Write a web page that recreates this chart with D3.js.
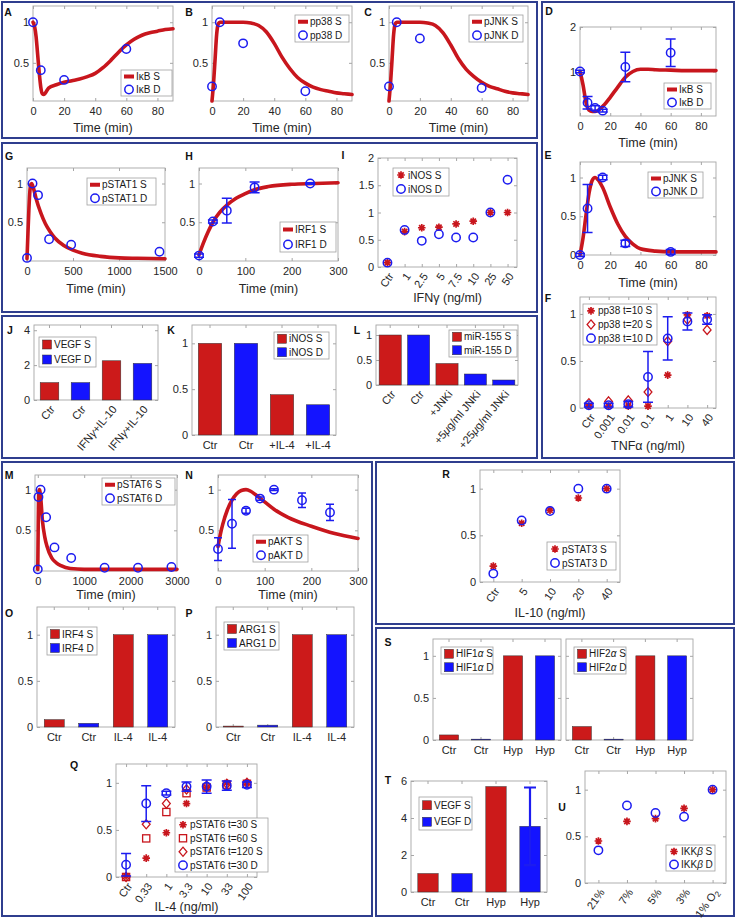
<!DOCTYPE html>
<html><head><meta charset="utf-8">
<script src="https://cdn.jsdelivr.net/npm/d3@7/dist/d3.min.js"></script>
<style>html,body{margin:0;padding:0;background:#fff}svg{display:block}</style>
</head><body>
<script>
// ================= DATA =================
// A: IκB (TNF stimulation)
const A_tSim=[0,1,2,3,4,5,6,7,8,10,15,20,25,30,35,40,45,50,55,60,65,70,75,80,85,90];
const A_sim=[1,0.95,0.82,0.6,0.38,0.2,0.12,0.11,0.13,0.19,0.23,0.26,0.28,0.3,0.33,0.37,0.44,0.53,0.63,0.72,0.79,0.84,0.87,0.89,0.91,0.92];
const A_tDat=[0,5,20,60];
const A_dat=[1.0,0.41,0.29,0.67];
// B: pp38, C: pJNK
const BC_tSim=[0,1,2,3,4,5,10,15,20,25,30,35,40,45,50,55,60,65,70,75,80,85,90];
const B_sim=[0.03,0.25,0.55,0.85,0.98,1.0,1.0,1.0,1.0,0.99,0.96,0.88,0.74,0.57,0.43,0.32,0.25,0.2,0.17,0.15,0.13,0.12,0.11];
const C_sim=[0.03,0.25,0.55,0.85,0.98,1.0,1.0,1.0,1.0,0.99,0.96,0.87,0.72,0.55,0.42,0.33,0.26,0.21,0.18,0.15,0.13,0.12,0.11];
const BC_tDat=[0,5,20,60];
const B_dat=[0.21,1.0,0.74,0.15];
const C_dat=[0.21,1.0,0.8,0.19];
// D: IκB (LPS)
const D_tSim=[0,2,4,6,8,10,13,16,20,25,30,35,40,45,50,60,70,80,90];
const D_sim=[1,0.7,0.3,0.13,0.1,0.1,0.15,0.25,0.42,0.65,0.87,1.0,1.05,1.05,1.04,1.03,1.02,1.02,1.02];
const D_tDat=[0,5,10,15,30,60];
const D_dat=[1.0,0.3,0.18,0.12,1.1,1.42];
const D_err=[0.03,0.14,0.05,0.03,0.33,0.31];
// E: pJNK
const E_tSim=[0,2,4,6,8,10,12,15,20,25,30,35,40,50,60,70,80,90];
const E_sim=[0,0.22,0.52,0.8,0.96,1.0,0.97,0.87,0.62,0.4,0.24,0.14,0.08,0.05,0.04,0.04,0.04,0.04];
const E_tDat=[0,5,15,30,60];
const E_dat=[0,0.6,1.0,0.15,0.04];
const E_err=[0.02,0.31,0.03,0.04,0.03];
// F: pp38 vs TNFα dose
const F_cats=["Ctr","0.001","0.01","0.1","1","10","40"];
const F_S10=[0.02,0.02,0.02,0.02,0.35,0.99,0.98];
const F_S20=[0.05,0.07,0.08,0.17,0.71,0.94,0.83];
const F_D10=[0.03,0.03,0.04,0.33,0.74,0.92,0.94];
const F_D10err=[0.02,0.02,0.03,0.27,0.23,0.09,0.05];
// G: pSTAT1
const G_tSim=[0,10,20,30,40,50,70,100,150,200,250,300,400,500,600,800,1000,1200,1500];
const G_sim=[0.03,0.35,0.65,0.88,0.98,1.0,0.94,0.8,0.62,0.48,0.38,0.3,0.2,0.14,0.1,0.06,0.04,0.035,0.03];
const G_tDat=[0,60,120,240,480,1440];
const G_dat=[0.04,1.0,0.85,0.28,0.21,0.12];
// H: IRF1
const H_tSim=[0,10,20,30,45,60,80,100,120,150,200,250,300];
const H_sim=[0.08,0.24,0.38,0.5,0.63,0.72,0.81,0.87,0.92,0.96,0.99,1.0,1.01];
const H_tDat=[0,30,60,120,240];
const H_dat=[0.07,0.51,0.65,0.95,1.0];
const H_err=[0.02,0.02,0.16,0.07,0.01];
// I: iNOS vs IFNγ
const I_cats=["Ctr","1","2.5","5","7.5","10","25","50"];
const I_S=[0.08,0.65,0.72,0.73,0.79,0.84,1.0,1.0];
const I_D=[0.08,0.68,0.48,0.6,0.54,0.54,1.0,1.6];
// J: VEGF
const J_labels=["Ctr","Ctr","IFN{γ}+IL-10","IFN{γ}+IL-10"];
const J_vals=[1.0,1.0,2.25,2.1];
const J_series=["S","D","S","D"];
// K: iNOS
const K_labels=["Ctr","Ctr","+IL-4","+IL-4"];
const K_vals=[1.0,1.0,0.44,0.33];
const K_series=["S","D","S","D"];
// L: miR-155
const L_labels=["Ctr","Ctr","+JNKi","+5{μ}g/ml JNKi","+25{μ}g/ml JNKi"];
const L_vals=[1.0,1.0,0.43,0.22,0.1];
const L_series=["S","D","S","D","D"];
// M: pSTAT6
const M_tSim=[0,10,20,35,60,100,150,200,300,400,500,700,1000,1500,2000,3000];
const M_sim=[0.02,0.6,0.95,1.0,0.92,0.62,0.42,0.3,0.16,0.1,0.065,0.03,0.02,0.02,0.02,0.02];
const M_tDat=[0,15,60,180,360,720,1440,2160,2880];
const M_dat=[0.02,0.91,1.0,0.66,0.29,0.16,0.04,0.04,0.05];
// N: pAKT
const N_tSim=[0,5,10,20,30,40,50,60,70,80,100,120,150,200,250,300];
const N_sim=[0.3,0.45,0.57,0.75,0.87,0.95,0.99,1.0,0.98,0.94,0.85,0.76,0.66,0.55,0.46,0.4];
const N_tDat=[0,30,60,90,120,180,240];
const N_dat=[0.27,0.58,0.74,0.89,1.0,0.87,0.72];
const N_err=[0.14,0.3,0.03,0.02,0.01,0.09,0.1];
// O: IRF4, P: ARG1
const OP_labels=["Ctr","Ctr","IL-4","IL-4"];
const OP_series=["S","D","S","D"];
const O_vals=[0.08,0.04,1.0,1.0];
const P_vals=[0.01,0.02,1.0,1.0];
// Q: pSTAT6 vs IL-4 dose
const Q_cats=["Ctr","0.33","1","3.3","10","33","100"];
const Q_S30=[0.01,0.2,0.47,0.78,0.95,1.0,1.0];
const Q_S60=[0.0,0.41,0.69,0.89,0.95,0.98,0.99];
const Q_S120=[0.0,0.56,0.78,0.93,0.97,0.99,1.0];
const Q_D30=[0.13,0.78,0.89,0.96,0.96,0.97,0.98];
const Q_D30err=[0.12,0.19,0.02,0.05,0.07,0.05,0.03];
// R: pSTAT3 vs IL-10 dose
const R_cats=["Ctr","5","10","20","40"];
const R_S=[0.17,0.63,0.77,0.9,1.0];
const R_D=[0.09,0.66,0.76,1.0,1.0];
// S: HIF1α, HIF2α
const S_labels=["Ctr","Ctr","Hyp","Hyp"];
const S_series=["S","D","S","D"];
const S1_vals=[0.06,0.01,1.0,1.0];
const S2_vals=[0.16,0.01,1.0,1.0];
// T: VEGF hypoxia
const T_labels=["Ctr","Ctr","Hyp","Hyp"];
const T_series=["S","D","S","D"];
const T_vals=[1.0,1.0,5.7,3.55];
const T_err=[0,0,0,2.1];
// U: IKKβ vs O2
const U_cats=["21%","7%","5%","3%","1% O_2"];
const U_S=[0.45,0.66,0.69,0.8,1.0];
const U_D=[0.35,0.83,0.75,0.71,1.0];

// ================= STYLE =================
const FONT="'Liberation Sans', Arial, Helvetica, sans-serif";
const RED="#c8161d", BARRED="#cc1a1a", BLUE="#1c1cf0", BARBLUE="#1414ff", FR="#a6a6a6", TXT="#262626", BOX="#2f3e8e";
const svg=d3.select("body").append("svg").attr("width",738).attr("height",922).style("font-family",FONT);

function rich(t,s){
  t.text(null);
  const re=/\{([^}]*)\}|_(\w)|([^{_]+)/g; let m;
  while((m=re.exec(s))){
    if(m[1]!==undefined) t.append("tspan").attr("font-style","italic").text(m[1]);
    else if(m[2]!==undefined) t.append("tspan").attr("dy","0.3em").attr("font-size","75%").text(m[2]);
    else t.append("tspan").text(m[3]);
  }
}
function box(x0,y0,x1,y1){
  svg.append("rect").attr("x",x0).attr("y",y0).attr("width",x1-x0).attr("height",y1-y0)
    .attr("fill","none").attr("stroke",BOX).attr("stroke-width",2);
}
function letter(t,x,y){
  svg.append("text").attr("x",x).attr("y",y).attr("dy","0.35em").attr("text-anchor","middle")
    .attr("font-weight","bold").attr("font-size",10.5).attr("fill","#111").text(t);
}
function axes(o){
  const g=svg.append("g");
  g.append("rect").attr("x",o.x0).attr("y",o.y0).attr("width",o.x1-o.x0).attr("height",o.y1-o.y0)
    .attr("fill","#fff").attr("stroke",FR).attr("stroke-width",0.9);
  const fmt=o.xFmt||(d=>d);
  const xa=d3.axisBottom(o.x).tickSize(-3).tickPadding(6).tickFormat(fmt);
  if(o.xTicks) xa.tickValues(o.xTicks);
  const gx=g.append("g").attr("transform",`translate(0,${o.y1})`).call(xa);
  const xt=d3.axisTop(o.x).tickSize(-3).tickFormat("");
  if(o.xTicks) xt.tickValues(o.xTicks);
  g.append("g").attr("transform",`translate(0,${o.y0})`).call(xt);
  const ya=d3.axisLeft(o.y).tickValues(o.yTicks).tickSize(-3).tickPadding(4).tickFormat(o.noYLabels?"":(d=>d));
  g.append("g").attr("transform",`translate(${o.x0},0)`).call(ya);
  g.append("g").attr("transform",`translate(${o.x1},0)`).call(d3.axisRight(o.y).tickValues(o.yTicks).tickSize(-3).tickFormat(""));
  g.selectAll(".domain").remove();
  g.selectAll(".tick line").attr("stroke",FR);
  g.selectAll(".tick text").attr("fill",TXT).attr("font-size",11).attr("font-family",FONT);
  gx.selectAll(".tick text").each(function(d){ rich(d3.select(this), String(fmt(d))); });
  if(o.rot){
    gx.selectAll(".tick text").attr("y",0).attr("x",0).attr("dy","0.35em").attr("text-anchor","end")
      .attr("transform",`translate(3,7) rotate(${o.rot})`);
  }
  if(o.title){
    g.append("text").attr("x",(o.x0+o.x1)/2).attr("y",o.titleY).attr("dy","0.35em").attr("text-anchor","middle")
      .attr("font-size",12.5).attr("fill",TXT).text(o.title);
  }
  o.g=g;
  return o;
}
function curve(o,ts,vs){
  o.g.append("path").datum(ts.map((t,i)=>[t,vs[i]]))
    .attr("d",d3.line().x(d=>o.x(d[0])).y(d=>o.y(d[1])).curve(d3.curveMonotoneX))
    .attr("fill","none").attr("stroke",RED).attr("stroke-width",3.6).attr("stroke-linejoin","round").attr("stroke-linecap","round");
}
function marker(g,type,cx,cy){
  if(type==="circle") g.append("circle").attr("cx",cx).attr("cy",cy).attr("r",4.2).attr("fill","none").attr("stroke",BLUE).attr("stroke-width",1.5);
  else if(type==="star"){const s=3.8,d=s*0.7071;
    g.append("path").attr("d",`M${cx-s},${cy}H${cx+s}M${cx},${cy-s}V${cy+s}M${cx-d},${cy-d}L${cx+d},${cy+d}M${cx-d},${cy+d}L${cx+d},${cy-d}`)
      .attr("stroke",RED).attr("stroke-width",1.7).attr("fill","none");}
  else if(type==="diamond"){const s=4.6;
    g.append("path").attr("d",`M${cx},${cy-s}L${cx+s*0.85},${cy}L${cx},${cy+s}L${cx-s*0.85},${cy}Z`).attr("fill","none").attr("stroke",RED).attr("stroke-width",1.3);}
  else if(type==="square") g.append("rect").attr("x",cx-3.6).attr("y",cy-3.6).attr("width",7.2).attr("height",7.2).attr("fill","none").attr("stroke",RED).attr("stroke-width",1.3);
  else if(type==="line") g.append("line").attr("x1",cx-5).attr("x2",cx+5).attr("y1",cy).attr("y2",cy).attr("stroke",RED).attr("stroke-width",4);
  else if(type==="barS") g.append("rect").attr("x",cx-4.5).attr("y",cy-4.5).attr("width",9).attr("height",9).attr("fill",BARRED).attr("stroke","#333").attr("stroke-width",0.5);
  else if(type==="barD") g.append("rect").attr("x",cx-4.5).attr("y",cy-4.5).attr("width",9).attr("height",9).attr("fill",BARBLUE).attr("stroke","#333").attr("stroke-width",0.5);
}
function points(o,xs,vs,type){ xs.forEach((x,i)=>marker(o.g,type,o.x(x),o.y(vs[i]))); }
function errbars(o,xs,vs,es,cap){
  cap=cap||4;
  xs.forEach((x,i)=>{
    const cx=o.x(x), y1=o.y(vs[i]-es[i]), y2=o.y(vs[i]+es[i]);
    const p=`M${cx},${y1}V${y2}M${cx-cap},${y1}H${cx+cap}M${cx-cap},${y2}H${cx+cap}`;
    o.g.append("path").attr("d",p).attr("stroke",BLUE).attr("stroke-width",1.5).attr("fill","none");
  });
}
function bars(o,vals,series){
  vals.forEach((v,i)=>{
    o.g.append("rect").attr("x",o.x(i)).attr("width",o.x.bandwidth()).attr("y",o.y(v)).attr("height",o.y(0)-o.y(v))
      .attr("fill",series[i]==="S"?BARRED:BARBLUE).attr("stroke","#333").attr("stroke-width",0.5);
  });
}
function legend(x,y,w,h,items){
  const g=svg.append("g");
  g.append("rect").attr("x",x).attr("y",y).attr("width",w).attr("height",h).attr("fill","#fff").attr("stroke","#a0a0a0").attr("stroke-width",0.8);
  const rh=h/items.length;
  items.forEach((it,i)=>{
    const cy=y+rh*(i+0.5);
    marker(g,it[0],x+8,cy);
    const t=g.append("text").attr("x",x+15).attr("y",cy).attr("dy","0.35em").attr("font-size",10).attr("fill","#1a1a1a");
    rich(t,it[1]);
  });
}
const lin=(d,r)=>d3.scaleLinear().domain(d).range(r);
const pt=(c,r,p)=>d3.scalePoint().domain(c).range(r).padding(p);
const band=(n,r,p)=>d3.scaleBand().domain(d3.range(n)).range(r).paddingInner(p).paddingOuter(p/2);

// ================= BOXES =================
box(2,2,537,138); box(542,2,734,458);
box(2,143,537,312); box(2,316,537,458);
box(2,462,372,916); box(376,462,734,624); box(376,628,734,916);

// ================= A B C =================
const TT=[0,20,40,60,80];
letter("A",8,12);
const pA=axes({x0:33,x1:173,y0:6,y1:101,x:lin([0,90],[33,173]),y:lin([0.03,1.2],[101,6]),xTicks:TT,yTicks:[0.5,1],title:"Time (min)",titleY:128});
curve(pA,A_tSim,A_sim); points(pA,A_tDat,A_dat,"circle");
legend(121,70,51,26,[["line","I\u03baB S"],["circle","I\u03baB D"]]);

letter("B",189,12);
const pB=axes({x0:212,x1:352,y0:6,y1:101,x:lin([0,90],[212,352]),y:lin([0.03,1.2],[101,6]),xTicks:TT,yTicks:[0.5,1],title:"Time (min)",titleY:128});
curve(pB,BC_tSim,B_sim); points(pB,BC_tDat,B_dat,"circle");
legend(295,15,54,27,[["line","pp38 S"],["circle","pp38 D"]]);

letter("C",368,12);
const pC=axes({x0:389,x1:528,y0:6,y1:101,x:lin([0,90],[389,528]),y:lin([0.03,1.2],[101,6]),xTicks:TT,yTicks:[0.5,1],title:"Time (min)",titleY:128});
curve(pC,BC_tSim,C_sim); points(pC,BC_tDat,C_dat,"circle");
legend(469,15,54,27,[["line","pJNK S"],["circle","pJNK D"]]);

// ================= D E F =================
letter("D",549,11);
const pD=axes({x0:580,x1:716,y0:27,y1:116,x:lin([0,90],[580,716]),y:lin([0,2],[116,27]),xTicks:TT,yTicks:[1,2],title:"Time (min)",titleY:143});
curve(pD,D_tSim,D_sim); errbars(pD,D_tDat,D_dat,D_err,5); points(pD,D_tDat,D_dat,"circle");
legend(664,83,47,26,[["line","I\u03baB S"],["circle","I\u03baB D"]]);

letter("E",548,155);
const pE=axes({x0:580,x1:716,y0:162,y1:255,x:lin([0,90],[580,716]),y:lin([0,1.2],[255,162]),xTicks:TT,yTicks:[0,0.5,1],title:"Time (min)",titleY:283});
curve(pE,E_tSim,E_sim); errbars(pE,E_tDat,E_dat,E_err,5); points(pE,E_tDat,E_dat,"circle");
legend(648,172,55,26,[["line","pJNK S"],["circle","pJNK D"]]);

letter("F",548,298);
const pF=axes({x0:580,x1:716,y0:297,y1:408,x:pt(F_cats,[580,716],0.45),y:lin([0,1.18],[408,297]),yTicks:[0,0.5,1],rot:-55,title:"TNF\u03b1 (ng/ml)",titleY:446});
points(pF,F_cats,F_S10,"star"); points(pF,F_cats,F_S20,"diamond");
errbars(pF,F_cats,F_D10,F_D10err,5); points(pF,F_cats,F_D10,"circle");
legend(583,304,74,41,[["star","pp38 t=10 S"],["diamond","pp38 t=20 S"],["circle","pp38 t=10 D"]]);

// ================= G H I =================
letter("G",9,156);
const pG=axes({x0:27,x1:165,y0:168,y1:261,x:lin([0,1500],[27,165]),y:lin([0,1.2],[261,168]),xTicks:[0,500,1000,1500],yTicks:[0.5,1],title:"Time (min)",titleY:289});
curve(pG,G_tSim,G_sim); points(pG,G_tDat,G_dat,"circle");
legend(87,178,69,27,[["line","pSTAT1 S"],["circle","pSTAT1 D"]]);

letter("H",189,156);
const pH=axes({x0:199,x1:338,y0:168,y1:261,x:lin([0,300],[199,338]),y:lin([0,1.2],[261,168]),xTicks:[0,100,200,300],yTicks:[0.5,1],title:"Time (min)",titleY:289});
curve(pH,H_tSim,H_sim); errbars(pH,H_tDat,H_dat,H_err,5); points(pH,H_tDat,H_dat,"circle");
legend(280,222,56,30,[["line","IRF1 S"],["circle","IRF1 D"]]);

letter("I",343,155);
const pI=axes({x0:378,x1:517,y0:158,y1:267,x:pt(I_cats,[378,517],0.55),y:lin([0,2],[267,158]),yTicks:[0,0.5,1,1.5,2],rot:-55,title:"IFN\u03b3 (ng/ml)",titleY:298});
points(pI,I_cats,I_S,"star"); points(pI,I_cats,I_D,"circle");
legend(393,168,56,28,[["star","iNOS S"],["circle","iNOS D"]]);

// ================= J K L =================
letter("J",10,330);
const pJ=axes({x0:34,x1:158,y0:325,y1:400,x:band(4,[34,158],0.4),y:lin([0,4.3],[400,325]),xFmt:i=>J_labels[i],yTicks:[0,2,4],rot:-50});
bars(pJ,J_vals,J_series);
legend(39,337,57,30,[["barS","VEGF S"],["barD","VEGF D"]]);

letter("K",171,330);
const pK=axes({x0:192,x1:336,y0:325,y1:435,x:band(4,[192,336],0.35),y:lin([0,1.2],[435,325]),xFmt:i=>K_labels[i],yTicks:[0,0.5,1]});
bars(pK,K_vals,K_series);
legend(274,332,55,27,[["barS","iNOS S"],["barD","iNOS D"]]);

letter("L",357,330);
const pL=axes({x0:376,x1:518,y0:325,y1:385,x:band(5,[376,518],0.22),y:lin([0,1.2],[385,325]),xFmt:i=>L_labels[i],yTicks:[0,0.5,1],rot:-50});
bars(pL,L_vals,L_series);
legend(449,330,68,27,[["barS","miR-155 S"],["barD","miR-155 D"]]);

// ================= M N =================
letter("M",9,475);
const pM=axes({x0:35,x1:177,y0:475,y1:571,x:lin([-60,3000],[35,177]),y:lin([0,1.18],[571,475]),xTicks:[0,1000,2000,3000],yTicks:[0.5,1],title:"Time (min)",titleY:595});
curve(pM,M_tSim,M_sim); points(pM,M_tDat,M_dat,"circle");
legend(102,478,73,27,[["line","pSTAT6 S"],["circle","pSTAT6 D"]]);

letter("N",189,475);
const pN=axes({x0:218,x1:358,y0:475,y1:571,x:lin([0,300],[218,358]),y:lin([0,1.18],[571,475]),xTicks:[0,100,200,300],yTicks:[0.5,1],title:"Time (min)",titleY:595});
curve(pN,N_tSim,N_sim); errbars(pN,N_tDat,N_dat,N_err,4); points(pN,N_tDat,N_dat,"circle");
legend(253,535,55,27,[["line","pAKT S"],["circle","pAKT D"]]);

// ================= O P Q =================
letter("O",9,613);
const pO=axes({x0:37,x1:175,y0:607,y1:727,x:band(4,[37,175],0.42),y:lin([0,1.3],[727,607]),xFmt:i=>OP_labels[i],yTicks:[0,0.5,1]});
bars(pO,O_vals,OP_series);
legend(47,627,50,28,[["barS","IRF4 S"],["barD","IRF4 D"]]);

letter("P",189,613);
const pP=axes({x0:216,x1:354,y0:607,y1:727,x:band(4,[216,354],0.42),y:lin([0,1.3],[727,607]),xFmt:i=>OP_labels[i],yTicks:[0,0.5,1]});
bars(pP,P_vals,OP_series);
legend(224,622,55,28,[["barS","ARG1 S"],["barD","ARG1 D"]]);

letter("Q",74,765);
const pQ=axes({x0:116,x1:257,y0:764,y1:877,x:pt(Q_cats,[116,257],0.5),y:lin([0,1.2],[877,764]),yTicks:[0,0.5,1],rot:-55,title:"IL-4 (ng/ml)",titleY:907});
points(pQ,Q_cats,Q_S30,"star"); points(pQ,Q_cats,Q_S60,"square"); points(pQ,Q_cats,Q_S120,"diamond");
errbars(pQ,Q_cats,Q_D30,Q_D30err,5); points(pQ,Q_cats,Q_D30,"circle");
legend(175,818,93,54,[["star","pSTAT6 t=30 S"],["square","pSTAT6 t=60 S"],["diamond","pSTAT6 t=120 S"],["circle","pSTAT6 t=30 D"]]);

// ================= R =================
letter("R",446,474);
const pR=axes({x0:480,x1:620,y0:470,y1:582,x:pt(R_cats,[480,620],0.47),y:lin([0,1.2],[582,470]),yTicks:[0,0.5,1],rot:-55,title:"IL-10 (ng/ml)",titleY:613});
points(pR,R_cats,R_S,"star"); points(pR,R_cats,R_D,"circle");
legend(547,542,69,28,[["star","pSTAT3 S"],["circle","pSTAT3 D"]]);

// ================= S T U =================
letter("S",388,642);
const pS1=axes({x0:433,x1:561,y0:639,y1:740,x:band(4,[433,561],0.4),y:lin([0,1.2],[740,639]),xFmt:i=>S_labels[i],yTicks:[0,0.5,1]});
bars(pS1,S1_vals,S_series);
legend(441,647,52,27,[["barS","HIF1{\u03b1} S"],["barD","HIF1{\u03b1} D"]]);
const pS2=axes({x0:566,x1:693,y0:639,y1:740,x:band(4,[566,693],0.4),y:lin([0,1.2],[740,639]),xFmt:i=>S_labels[i],yTicks:[0,0.5,1],noYLabels:true});
bars(pS2,S2_vals,S_series);
legend(574,647,52,27,[["barS","HIF2{\u03b1} S"],["barD","HIF2{\u03b1} D"]]);

letter("T",388,780);
const pT=axes({x0:411,x1:547,y0:781,y1:892,x:band(4,[411,547],0.4),y:lin([0,6],[892,781]),xFmt:i=>T_labels[i],yTicks:[0,2,4,6]});
bars(pT,T_vals,T_series);
T_vals.forEach((v,i)=>{ if(T_err[i]>0){ const cx=pT.x(i)+pT.x.bandwidth()/2, y1=pT.y(v-T_err[i]), y2=pT.y(v+T_err[i]);
  pT.g.append("path").attr("d",`M${cx},${y1}V${y2}M${cx-6},${y1}H${cx+6}M${cx-6},${y2}H${cx+6}`).attr("stroke",BLUE).attr("stroke-width",2.2).attr("fill","none"); }});
legend(419,797,53,33,[["barS","VEGF S"],["barD","VEGF D"]]);

letter("U",562,807);
const pU=axes({x0:585,x1:726,y0:771,y1:883,x:pt(U_cats,[585,726],0.47),y:lin([0,1.2],[883,771]),yTicks:[0,0.5,1],rot:-55});
points(pU,U_cats,U_S,"star"); points(pU,U_cats,U_D,"circle");
legend(666,845,49,26,[["star","IKK{\u03b2} S"],["circle","IKK{\u03b2} D"]]);
</script>
</body></html>
